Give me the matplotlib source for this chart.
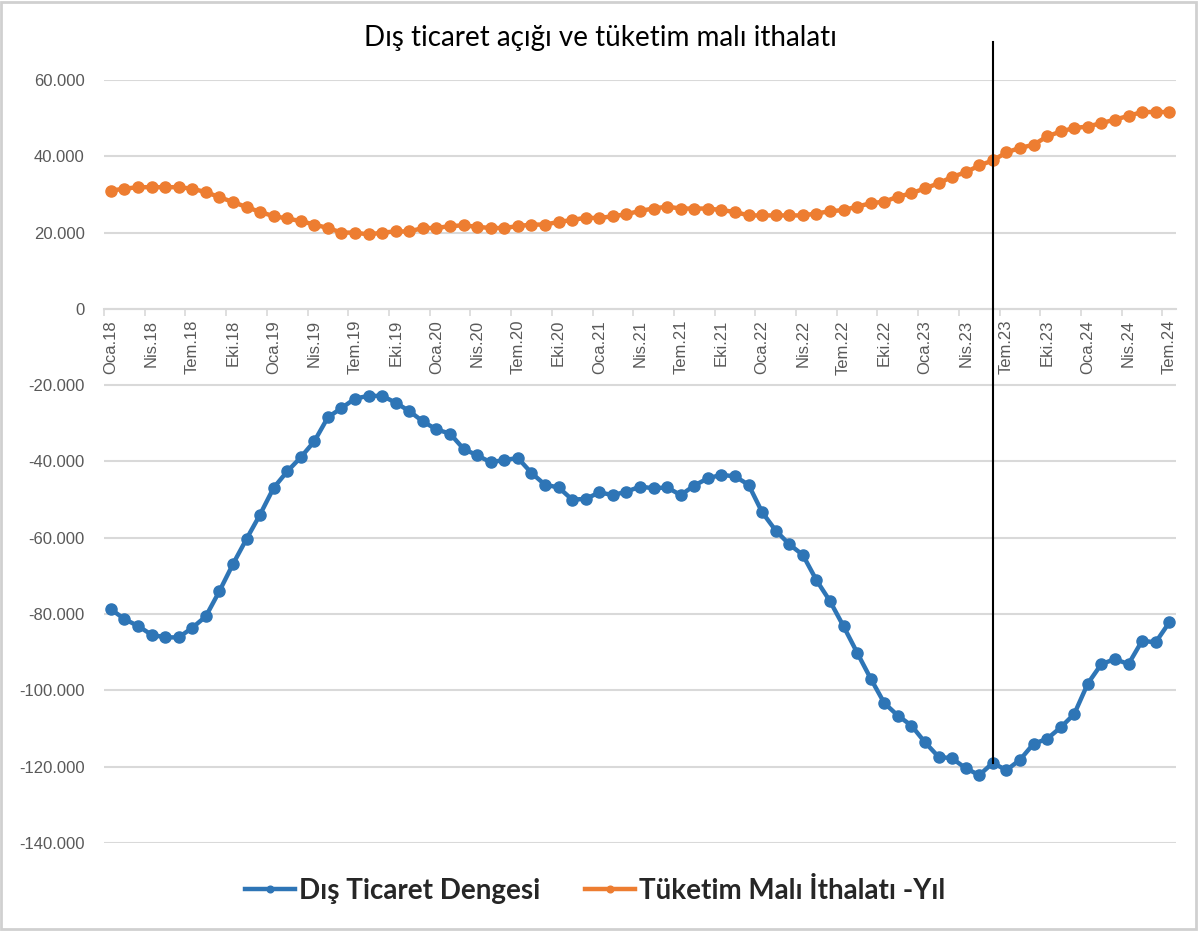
import numpy as np
import matplotlib
matplotlib.use('Agg')
import matplotlib.pyplot as plt
from matplotlib.patches import Rectangle
from matplotlib.ticker import FuncFormatter

# monthly series, Oca.18 .. Tem.24
ay_adlari = ['Oca', 'Şub', 'Mar', 'Nis', 'May', 'Haz', 'Tem', 'Ağu', 'Eyl', 'Eki', 'Kas', 'Ara']
yillar = [18, 19, 20, 21, 22, 23, 24]

dis_ticaret_dengesi = [
    -78700, -81300, -83100, -85400, -86100, -86100, -83600, -80600, -74000, -66900,
    -60300, -53900, -46900, -42600, -38900, -34700, -28400, -26000, -23500, -22800,
    -22800, -24600, -26800, -29500, -31600, -32700, -36700, -38400, -40200, -39600,
    -39100, -43000, -46100, -46800, -50000, -49800, -48100, -48800, -47900, -46600,
    -47000, -46800, -48800, -46300, -44400, -43500, -43900, -46100, -53300, -58100,
    -61700, -64500, -71100, -76600, -83200, -90100, -96900, -103300, -106600, -109200,
    -113600, -117400, -117800, -120400, -122200, -119000, -120900, -118200, -114000, -112700,
    -109700, -106200, -98200, -93100, -91800, -93100, -87000, -87400, -82200,
]

tuketim_mali_ithalati = [
    31000, 31500, 31900, 31900, 31900, 31900, 31500, 30600, 29300, 28000,
    26700, 25400, 24300, 23700, 23000, 22100, 21200, 20000, 20000, 19500,
    20000, 20300, 20300, 21200, 21200, 21700, 21900, 21500, 21200, 21200,
    21700, 22100, 22100, 22800, 23300, 23900, 23800, 24300, 24800, 25700,
    26300, 26800, 26300, 26300, 26300, 25900, 25400, 24500, 24500, 24500,
    24500, 24500, 25000, 25600, 25900, 26800, 27700, 28100, 29400, 30300,
    31600, 32900, 34600, 35800, 37600, 38900, 41000, 42200, 43000, 45200,
    46500, 47400, 47800, 48700, 49600, 50600, 51600, 51600, 51600,
]

etiketler = [f'{a}.{y}' for y in yillar for a in ay_adlari][:len(dis_ticaret_dengesi)]
isaret_ayi = 65  # Haz.23

mavi = '#2e75b6'
turuncu = '#ed7d31'
gri = '#595959'

fig = plt.figure(figsize=(12, 9.31), dpi=100)
fig.patches.append(Rectangle((0.001, 0.002), 0.996, 0.996, transform=fig.transFigure,
                             fill=False, edgecolor='#d0d0d0', linewidth=2))
ax = fig.add_axes([0.0867, 0.0945, 0.8933, 0.8196])

x = np.arange(len(dis_ticaret_dengesi))
ax.plot(x, dis_ticaret_dengesi, color=mavi, lw=3.2, marker='o', ms=8,
        label='Dış Ticaret Dengesi', zorder=3)
ax.plot(x, tuketim_mali_ithalati, color=turuncu, lw=3.2, marker='o', ms=8,
        label='Tüketim Malı İthalatı -Yıl', zorder=3)

# vertical marker line
ax.plot([isaret_ayi, isaret_ayi], [dis_ticaret_dengesi[isaret_ayi], 70000],
        color='black', lw=1.5, clip_on=False, zorder=4)

ax.set_xlim(-0.5, len(x) - 0.5)
ax.set_ylim(-140000, 60000)
ax.set_yticks(np.arange(-140000, 60001, 20000))
ax.yaxis.set_major_formatter(FuncFormatter(lambda v, p: f'{int(v):,}'.replace(',', '.')))
ax.grid(axis='y', color='#d9d9d9', lw=1.5)
ax.set_axisbelow(True)

for s in ['top', 'right', 'left']:
    ax.spines[s].set_visible(False)
ax.spines['bottom'].set_position(('data', 0))
ax.spines['bottom'].set_color('#d9d9d9')
ax.spines['bottom'].set_linewidth(1.5)

# labels on every third month, tick marks between categories
ax.set_xticks(x[::3])
ax.set_xticklabels(etiketler[::3], rotation=90, fontsize=12, color=gri,
                   family='Liberation Sans')
ax.set_xticks(np.arange(-0.5, len(x), 3), minor=True)
ax.tick_params(axis='x', which='major', length=0, pad=8)
ax.tick_params(axis='x', which='minor', length=5, color='#d9d9d9', width=1.2, direction='out')
ax.tick_params(axis='y', length=0, pad=14, labelsize=12, labelcolor=gri)
for t in ax.get_yticklabels():
    t.set_family('Liberation Sans')

fig.text(0.5, 0.959, 'Dış ticaret açığı ve tüketim malı ithalatı', ha='center', va='center',
         fontsize=20, family='Lato', color='black')

leg = ax.legend(loc='center', bbox_to_anchor=(0.458, -0.063), bbox_transform=ax.transAxes,
                ncol=2, frameon=False, handlelength=1.8, columnspacing=1.6, handletextpad=0.15,
                markerscale=0.6, prop={'family': 'Lato', 'weight': 'bold', 'size': 20})
for t in leg.get_texts():
    t.set_color('#262626')

fig.savefig('out.png', dpi=100, facecolor='white')
